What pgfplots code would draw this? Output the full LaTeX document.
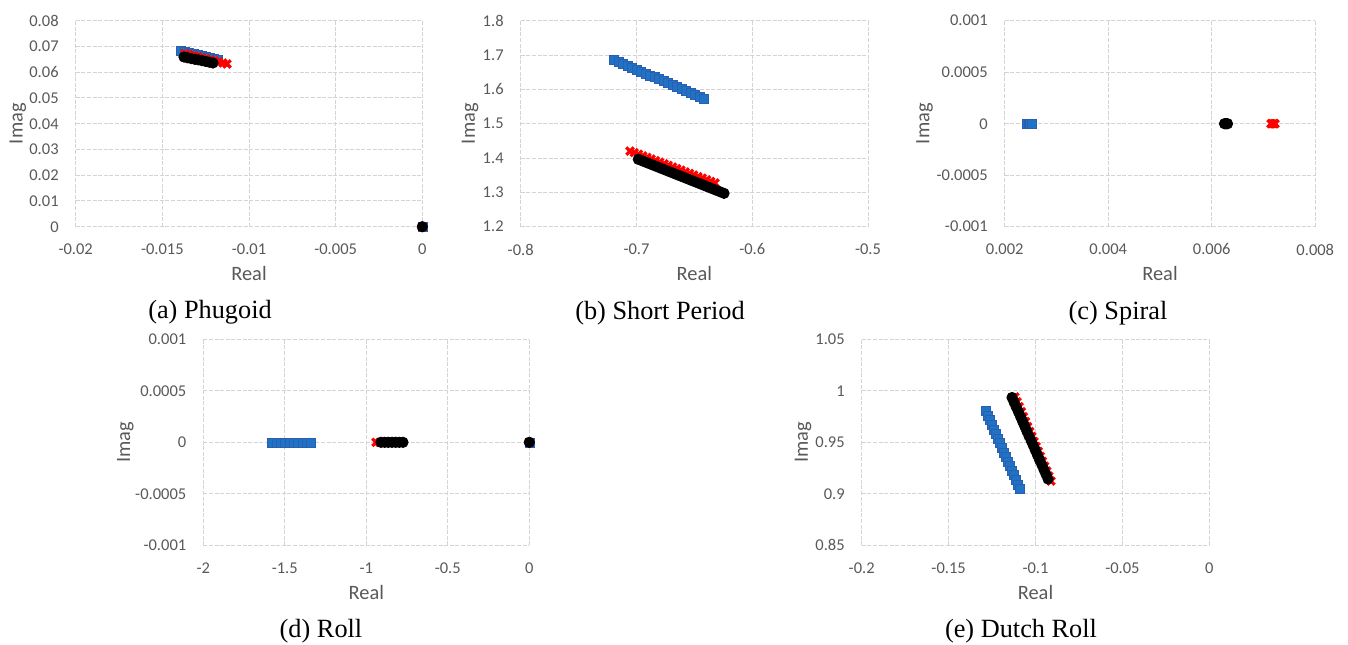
\documentclass[border=0pt]{standalone}
\usepackage{pgfplots}
\pgfplotsset{compat=1.18}
\usepackage{fontspec}
\setmainfont{Liberation Serif}
\newfontfamily\carlito{Carlito}
\definecolor{tickgray}{HTML}{595959}
\definecolor{gridgray}{HTML}{D4D4D4}
\definecolor{exblue}{HTML}{1F72C6}
\definecolor{exbluedark}{HTML}{2A5FAE}
\pgfplotsset{
  exc/.style={
    scale only axis, anchor=south west, clip=false,
    axis line style={draw=none}, major tick length=0pt,
    scaled ticks=false,
    grid=major,
    grid style={dash pattern=on 2pt off 0.8pt, color=gridgray, line width=0.5pt},
    tick label style={font=\carlito\fontsize{8.25}{10}\selectfont, text=tickgray},
    xticklabel style={yshift=-5pt},
    yticklabel style={xshift=-5pt},
    xlabel={Real}, ylabel={Imag},
    label style={font=\carlito\fontsize{10.2}{12}\selectfont, text=tickgray},
    xlabel style={at={(axis description cs:0.5,-0.225)}, anchor=center},
  },
  sblue/.style={only marks, mark=square*, mark size=2.25pt, mark options={fill=exblue, draw=exbluedark, line width=0.3pt}},
  sred/.style={only marks, mark=x, mark size=2.6pt, mark options={draw=red, line width=1.6pt}},
  sblack/.style={only marks, mark=*, mark size=2.6pt, mark options={fill=black, draw=black}},
}
\begin{document}
\begin{tikzpicture}
\useasboundingbox (0,0) rectangle (674pt,-322pt);
% (a) Phugoid
\begin{axis}[exc, at={(37.85pt,-113.35pt)}, width=173.3pt, height=103pt,
  xmin=-0.02, xmax=0, ymin=0, ymax=0.08,
  xtick={-0.02,-0.015,-0.01,-0.005,0}, xticklabels={-0.02,-0.015,-0.01,-0.005,0},
  ytick={0,0.01,0.02,0.03,0.04,0.05,0.06,0.07,0.08},
  yticklabels={0,0.01,0.02,0.03,0.04,0.05,0.06,0.07,0.08},
  ylabel style={at={(axis description cs:-0.1673,0.5)}, anchor=center}]
\addplot[sblue] coordinates {(-0.01392,0.0684)(-0.01368,0.0680)(-0.01345,0.0676)(-0.01321,0.0672)(-0.01297,0.0668)(-0.01274,0.0663)(-0.01250,0.0659)(-0.01226,0.0655)(-0.01203,0.0651)(-0.01179,0.0647)(0,0)};
\addplot[sred] coordinates {(-0.01370,0.0672)(-0.01346,0.0668)(-0.01321,0.0664)(-0.01297,0.0660)(-0.01273,0.0656)(-0.01249,0.0652)(-0.01224,0.0648)(-0.01200,0.0644)(-0.01176,0.0640)(-0.01151,0.0636)(-0.01127,0.0632)(0,0)};
\addplot[sblack] coordinates {(-0.01375,0.0659)(-0.01354,0.0656)(-0.01333,0.0653)(-0.01312,0.0650)(-0.01292,0.0648)(-0.01271,0.0645)(-0.01250,0.0642)(-0.01229,0.0639)(-0.01208,0.0636)(0,0)};
\end{axis}
% (b) Short Period
\begin{axis}[exc, at={(260.35pt,-113.35pt)}, width=173.65pt, height=103pt,
  xmin=-0.8, xmax=-0.5, ymin=1.2, ymax=1.8,
  xtick={-0.8,-0.7,-0.6,-0.5}, xticklabels={-0.8,-0.7,-0.6,-0.5},
  ytick={1.2,1.3,1.4,1.5,1.6,1.7,1.8}, yticklabels={1.2,1.3,1.4,1.5,1.6,1.7,1.8},
  ylabel style={at={(axis description cs:-0.146,0.5)}, anchor=center}]
\addplot[sblue] coordinates {(-0.7194,1.6870)(-0.7155,1.6813)(-0.7116,1.6755)(-0.7078,1.6698)(-0.7039,1.6640)(-0.7000,1.6583)(-0.6961,1.6525)(-0.6922,1.6468)(-0.6883,1.6410)(-0.6844,1.6353)(-0.6806,1.6295)(-0.6767,1.6238)(-0.6728,1.6180)(-0.6689,1.6123)(-0.6650,1.6065)(-0.6611,1.6008)(-0.6572,1.5950)(-0.6534,1.5893)(-0.6495,1.5835)(-0.6456,1.5778)(-0.6417,1.5720)};
\addplot[sred] coordinates {(-0.7056,1.4204)(-0.7019,1.4157)(-0.6983,1.4111)(-0.6946,1.4064)(-0.6909,1.4018)(-0.6873,1.3971)(-0.6836,1.3924)(-0.6799,1.3878)(-0.6762,1.3831)(-0.6726,1.3785)(-0.6689,1.3738)(-0.6652,1.3691)(-0.6616,1.3645)(-0.6579,1.3598)(-0.6542,1.3552)(-0.6506,1.3505)(-0.6469,1.3458)(-0.6432,1.3412)(-0.6395,1.3365)(-0.6359,1.3319)(-0.6322,1.3272)};
\addplot[sblack] coordinates {(-0.6984,1.3963)(-0.6947,1.3913)(-0.6910,1.3864)(-0.6873,1.3814)(-0.6836,1.3765)(-0.6799,1.3715)(-0.6762,1.3666)(-0.6725,1.3616)(-0.6688,1.3567)(-0.6651,1.3517)(-0.6614,1.3468)(-0.6577,1.3418)(-0.6540,1.3368)(-0.6503,1.3319)(-0.6466,1.3269)(-0.6429,1.3220)(-0.6392,1.3170)(-0.6355,1.3121)(-0.6318,1.3071)(-0.6281,1.3022)(-0.6244,1.2972)};
\end{axis}
% (c) Spiral
\begin{axis}[exc, at={(502.35pt,-113.35pt)}, width=155.3pt, height=103pt,
  xmin=0.002, xmax=0.008, ymin=-0.001, ymax=0.001,
  xtick={0.002,0.004,0.006,0.008}, xticklabels={0.002,0.004,0.006,0.008},
  ytick={-0.001,-0.0005,0,0.0005,0.001}, yticklabels={-0.001,-0.0005,0,0.0005,0.001},
  ylabel style={at={(axis description cs:-0.2576,0.5)}, anchor=center}]
\addplot[sblue] coordinates {(0.00243,0)(0.00246,0)(0.00249,0)(0.00252,0)};
\addplot[sred] coordinates {(0.007144,0)(0.00717,0)(0.00720,0)(0.007222,0)};
\addplot[sblack] coordinates {(0.006246,0)(0.006265,0)(0.006285,0)(0.006304,0)};
\end{axis}
% (d) Roll
\begin{axis}[exc, at={(101.65pt,-272.65pt)}, width=163pt, height=103pt,
  xmin=-2, xmax=0, ymin=-0.001, ymax=0.001,
  xtick={-2,-1.5,-1,-0.5,0}, xticklabels={-2,-1.5,-1,-0.5,0},
  ytick={-0.001,-0.0005,0,0.0005,0.001}, yticklabels={-0.001,-0.0005,0,0.0005,0.001},
  xlabel style={at={(axis description cs:0.5,-0.23)}},
  ylabel style={at={(axis description cs:-0.2393,0.5)}, anchor=center}]
\addplot[sblue] coordinates {(-1.5785,0)(-1.5519,0)(-1.5253,0)(-1.4987,0)(-1.4721,0)(-1.4454,0)(-1.4188,0)(-1.3922,0)(-1.3656,0)(-1.3390,0)(0,0)};
\addplot[sred] coordinates {(-0.9405,0)(-0.9170,0)(-0.8935,0)(-0.8700,0)(-0.8464,0)(-0.8229,0)(-0.7994,0)(0,0)};
\addplot[sblack] coordinates {(-0.9098,0)(-0.8873,0)(-0.8649,0)(-0.8424,0)(-0.8199,0)(-0.7975,0)(-0.7750,0)(0,0)};
\end{axis}
% (e) Dutch Roll
\begin{axis}[exc, at={(430.85pt,-272.65pt)}, width=173.8pt, height=103pt,
  xmin=-0.2, xmax=0, ymin=0.85, ymax=1.05,
  xtick={-0.2,-0.15,-0.1,-0.05,0}, xticklabels={-0.2,-0.15,-0.1,-0.05,0},
  ytick={0.85,0.9,0.95,1,1.05}, yticklabels={0.85,0.9,0.95,1,1.05},
  xlabel style={at={(axis description cs:0.5,-0.23)}},
  ylabel style={at={(axis description cs:-0.1689,0.5)}, anchor=center}]
\addplot[sblue] coordinates {(-0.1285,0.9804)(-0.1273,0.9759)(-0.1262,0.9715)(-0.1250,0.9670)(-0.1239,0.9626)(-0.1227,0.9581)(-0.1216,0.9537)(-0.1204,0.9492)(-0.1193,0.9448)(-0.1181,0.9403)(-0.1170,0.9359)(-0.1158,0.9314)(-0.1147,0.9270)(-0.1135,0.9225)(-0.1124,0.9181)(-0.1112,0.9136)(-0.1101,0.9092)(-0.1089,0.9047)};
\addplot[sred] coordinates {(-0.1118,0.9941)(-0.1106,0.9893)(-0.1094,0.9845)(-0.1081,0.9797)(-0.1069,0.9749)(-0.1057,0.9701)(-0.1045,0.9653)(-0.1033,0.9605)(-0.1021,0.9557)(-0.1008,0.9508)(-0.0996,0.9460)(-0.0984,0.9412)(-0.0972,0.9364)(-0.0960,0.9316)(-0.0947,0.9268)(-0.0935,0.9220)(-0.0923,0.9172)(-0.0911,0.9124)};
\addplot[sblack] coordinates {(-0.1135,0.9935)(-0.1123,0.9888)(-0.1111,0.9842)(-0.1098,0.9795)(-0.1086,0.9749)(-0.1074,0.9702)(-0.1062,0.9656)(-0.1050,0.9609)(-0.1038,0.9563)(-0.1025,0.9516)(-0.1013,0.9470)(-0.1001,0.9423)(-0.0989,0.9377)(-0.0977,0.9330)(-0.0964,0.9284)(-0.0952,0.9237)(-0.0940,0.9191)(-0.0928,0.9144)};
\end{axis}
% captions
\node[font=\fontsize{13.15}{15}\selectfont, anchor=center] at (105pt,-156.35pt) {(a) Phugoid};
\node[font=\fontsize{13.15}{15}\selectfont, anchor=center] at (330pt,-156.35pt) {(b) Short Period};
\node[font=\fontsize{13.15}{15}\selectfont, anchor=center] at (559pt,-156.35pt) {(c) Spiral};
\node[font=\fontsize{13.15}{15}\selectfont, anchor=center] at (160.5pt,-315.65pt) {(d) Roll};
\node[font=\fontsize{13.15}{15}\selectfont, anchor=center] at (510.5pt,-315.65pt) {(e) Dutch Roll};
\end{tikzpicture}
\end{document}
